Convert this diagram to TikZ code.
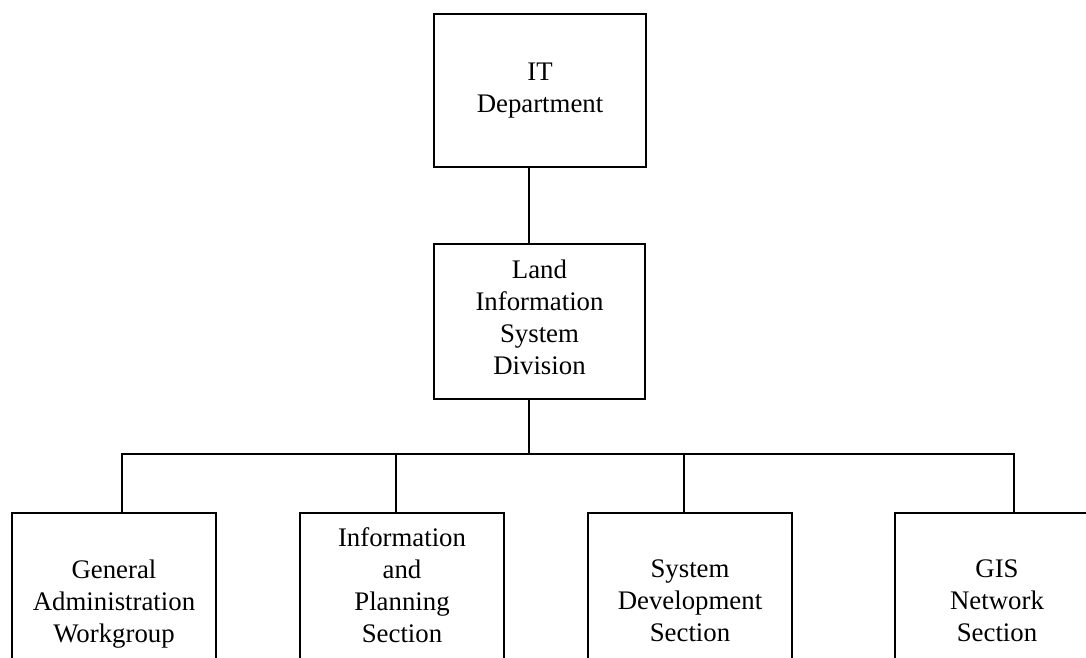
\documentclass[tikz,border=0pt]{standalone}
\usepackage{fontspec}
\setmainfont{Liberation Serif}
\usetikzlibrary{positioning}
\begin{document}
\begin{tikzpicture}[x=0.5pt, y=-0.5pt, line width=1pt,
    unit node/.style={draw, align=center, inner sep=0pt, anchor=north west,
      font=\fontsize{13.4}{16}\selectfont},
    section node/.style={unit node, minimum width=102pt, minimum height=100pt, text depth=12.1pt}]
  \useasboundingbox (0,0) rectangle (1086,658);
  \clip (0,0) rectangle (1086,658);
  % upper levels
  \node[unit node, minimum width=106pt, minimum height=76.5pt] (it) at (433,13) {IT\\Department};
  \node[unit node, minimum width=105.5pt, minimum height=77.5pt, text depth=4.5pt] (lis) at (433,243) {Land\\Information\\System\\Division};
  % sections
  \node[section node] (gaw) at (11,512) {General\\Administration\\Workgroup};
  \node[section node, text depth=28.1pt] (ips) at (299,512) {Information\\and\\Planning\\Section};
  \node[section node] (sds) at (587,512) {System\\Development\\Section};
  \node[section node] (gns) at (894,512) {GIS\\Network\\Section};
  % connectors
  \coordinate (bus) at (529,454);
  \draw (it.south -| bus) -- (lis.north -| bus);
  \draw (lis.south -| bus) -- (bus);
  \draw ([xshift=4pt]gaw.north) -- ([xshift=4pt]gaw.north |- bus)
    -- ([xshift=8.5pt]gns.north |- bus) -- ([xshift=8.5pt]gns.north);
  \draw ([xshift=-3pt]ips.north) -- ([xshift=-3pt]ips.north |- bus);
  \draw ([xshift=-3pt]sds.north) -- ([xshift=-3pt]sds.north |- bus);
\end{tikzpicture}
\end{document}
